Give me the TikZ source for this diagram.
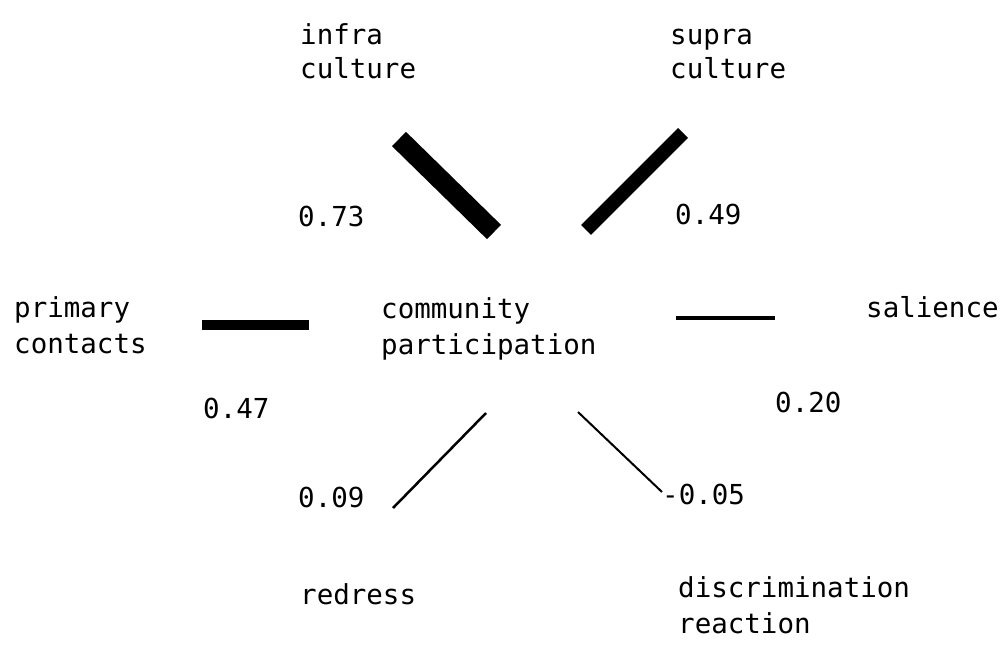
\documentclass[tikz,border=0pt]{standalone}
\usepackage{fontspec}
\setmonofont{DejaVu Sans Mono}
\usetikzlibrary{positioning}
\tikzset{
  lbl/.style   ={anchor=base west, inner sep=0pt, align=left,
                 font=\ttfamily\fontsize{27.5}{36}\selectfont},
  lblsk/.style ={lbl, font=\ttfamily\fontsize{27.5}{#1}\selectfont},
  coef/.style  ={lbl},
  bar/.style   ={draw=black, line cap=butt},
}
\begin{document}
\begin{tikzpicture}[x=1pt,y=-1pt]
  \useasboundingbox (0,0) rectangle (1008,646);
  % variable names (anchored at the last baseline)
  \node[lbl] (center)  at (381,354) {community\\participation};
  \node[lblsk=34] (infra)   at (300,78)  {infra\\culture};
  \node[lblsk=34] (supra)   at (670,78)  {supra\\culture};
  \node[lbl] (primary) at (14,353)  {primary\\contacts};
  \node[lbl] (salience) at (866,317) {salience};
  \node[lbl] (redress) at (300,604) {redress};
  \node[lbl] (discr)   at (678,633) {discrimination\\reaction};
  % coefficients
  \node[coef] (cinfra)   at (298,226) {0.73};
  \node[coef] (csupra)   at (675,224) {0.49};
  \node[coef] (cprimary) at (203,418) {0.47};
  \node[coef] (csalience) at (775,412) {0.20};
  \node[coef] (credress) at (298,507) {0.09};
  \node[coef] (cdiscr)   at (662,504) {-0.05};
  % bar ends
  \coordinate (i1) at (399,139); \coordinate (i2) at (494,232);
  \coordinate (s1) at (683,133); \coordinate (s2) at (586,230);
  \coordinate (p1) at (202,325); \coordinate (p2) at (309,325);
  \coordinate (l1) at (676,318); \coordinate (l2) at (775,318);
  \coordinate (r1) at (393,508); \coordinate (r2) at (486,413);
  \coordinate (d1) at (578,412); \coordinate (d2) at (662,492);
  % bars, width after the coefficient
  \draw[bar,line width=20pt] (i1) -- (i2);
  \draw[bar,line width=14pt] (s1) -- (s2);
  \draw[bar,line width=10pt] (p1) -- (p2);
  \draw[bar,line width=4pt]  (l1) -- (l2);
  \draw[bar,line width=2.5pt] (r1) -- (r2);
  \draw[bar,line width=2pt]  (d1) -- (d2);
\end{tikzpicture}
\end{document}
